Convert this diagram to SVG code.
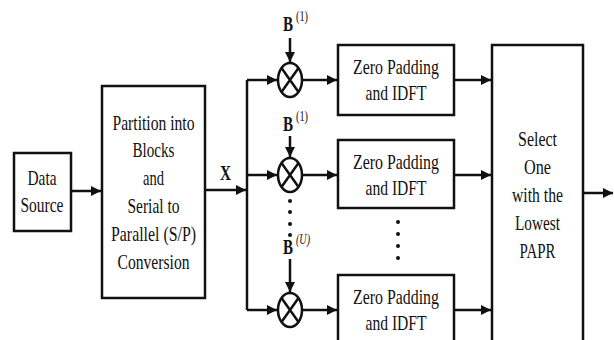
<svg xmlns="http://www.w3.org/2000/svg" width="614" height="340" viewBox="0 0 614 340">
<defs>
<style>
.box{fill:#fff;stroke:#111;stroke-width:2.5}
.ln{fill:none;stroke:#111;stroke-width:2.5}
text{font-family:"Liberation Serif","DejaVu Serif",serif;fill:#111}
.t{font-size:21px;text-anchor:middle}
.b{font-size:21px;font-weight:bold}
.s{font-size:14px}
.dot{fill:#111}
</style>
<marker id="ah" viewBox="0 0 10 10" refX="10" refY="5" markerWidth="10" markerHeight="10" markerUnits="userSpaceOnUse" orient="auto">
<path d="M0,0 L10,5 L0,10 Z" fill="#111"/>
</marker>
<g id="mult">
<ellipse cx="0" cy="0" rx="12" ry="17" class="ln"/>
<path d="M-8.5,-12 L8.5,12 M8.5,-12 L-8.5,12" class="ln" stroke-width="2"/>
</g>
</defs>
<rect width="614" height="340" fill="#fff"/>

<g id="connectors">
<path class="ln" d="M71,191 H101" marker-end="url(#ah)"/>
<path class="ln" d="M205,190 H246" marker-end="url(#ah)"/>
<path class="ln" d="M247,80 V310"/>
<path class="ln" d="M247,80 H277" marker-end="url(#ah)"/>
<path class="ln" d="M247,175 H277" marker-end="url(#ah)"/>
<path class="ln" d="M247,310 H277" marker-end="url(#ah)"/>
<path class="ln" d="M290,38 V62" stroke-width="2" marker-end="url(#ah)"/>
<path class="ln" d="M290,136 V157" stroke-width="2" marker-end="url(#ah)"/>
<path class="ln" d="M290,259 V292" stroke-width="2" marker-end="url(#ah)"/>
<path class="ln" d="M302,80 H337" marker-end="url(#ah)"/>
<path class="ln" d="M302,175 H337" marker-end="url(#ah)"/>
<path class="ln" d="M302,310 H337" marker-end="url(#ah)"/>
<path class="ln" d="M454,80 H491" marker-end="url(#ah)"/>
<path class="ln" d="M454,175 H491" marker-end="url(#ah)"/>
<path class="ln" d="M454,310 H491" marker-end="url(#ah)"/>
<path class="ln" d="M583,193 H613" marker-end="url(#ah)"/>
</g>

<g id="data-source">
<rect class="box" x="14" y="153" width="57" height="78"/>
<text class="t" x="42" y="185" textLength="29" lengthAdjust="spacingAndGlyphs">Data</text>
<text class="t" x="42" y="212" textLength="43" lengthAdjust="spacingAndGlyphs">Source</text>
</g>

<g id="partition">
<rect class="box" x="102" y="86" width="103" height="212"/>
<text class="t" x="153.5" y="130" textLength="82" lengthAdjust="spacingAndGlyphs">Partition into</text>
<text class="t" x="153.5" y="157" textLength="42" lengthAdjust="spacingAndGlyphs">Blocks</text>
<text class="t" x="153.5" y="185" textLength="21" lengthAdjust="spacingAndGlyphs">and</text>
<text class="t" x="153.5" y="213" textLength="52" lengthAdjust="spacingAndGlyphs">Serial to</text>
<text class="t" x="153.5" y="241" textLength="85" lengthAdjust="spacingAndGlyphs">Parallel (S/P)</text>
<text class="t" x="153.5" y="269" textLength="72" lengthAdjust="spacingAndGlyphs">Conversion</text>
</g>

<g id="label-x">
<text class="b" x="220" y="180" textLength="11" lengthAdjust="spacingAndGlyphs">X</text>
</g>

<g id="mult1">
<use href="#mult" x="290" y="80"/>
<text class="b" x="283" y="31" textLength="10" lengthAdjust="spacingAndGlyphs">B</text>
<text class="s" x="296" y="21" textLength="12" lengthAdjust="spacingAndGlyphs">(1)</text>
</g>

<g id="mult2">
<use href="#mult" x="290" y="175"/>
<text class="b" x="283" y="131" textLength="10" lengthAdjust="spacingAndGlyphs">B</text>
<text class="s" x="296" y="121" textLength="12" lengthAdjust="spacingAndGlyphs">(1)</text>
</g>

<g id="dots1">
<circle class="dot" cx="290" cy="201" r="2"/>
<circle class="dot" cx="290" cy="212" r="2"/>
<circle class="dot" cx="290" cy="224" r="2"/>
<circle class="dot" cx="290" cy="235" r="2"/>
</g>

<g id="mult3">
<use href="#mult" x="290" y="310"/>
<text class="b" x="283" y="254" textLength="10" lengthAdjust="spacingAndGlyphs">B</text>
<text class="s" x="296" y="244" font-style="italic" textLength="14" lengthAdjust="spacingAndGlyphs">(U)</text>
</g>

<g id="zp1">
<rect class="box" x="338" y="45" width="116" height="70"/>
<text class="t" x="396" y="74" textLength="86" lengthAdjust="spacingAndGlyphs">Zero Padding</text>
<text class="t" x="396" y="100" textLength="61" lengthAdjust="spacingAndGlyphs">and IDFT</text>
</g>

<g id="zp2">
<rect class="box" x="338" y="140" width="116" height="68"/>
<text class="t" x="396" y="169" textLength="86" lengthAdjust="spacingAndGlyphs">Zero Padding</text>
<text class="t" x="396" y="195" textLength="61" lengthAdjust="spacingAndGlyphs">and IDFT</text>
</g>

<g id="dots2">
<circle class="dot" cx="398" cy="222" r="2"/>
<circle class="dot" cx="398" cy="234" r="2"/>
<circle class="dot" cx="398" cy="246" r="2"/>
<circle class="dot" cx="398" cy="258" r="2"/>
</g>

<g id="zp3">
<rect class="box" x="338" y="275" width="116" height="80"/>
<text class="t" x="396" y="304" textLength="86" lengthAdjust="spacingAndGlyphs">Zero Padding</text>
<text class="t" x="396" y="330" textLength="61" lengthAdjust="spacingAndGlyphs">and IDFT</text>
</g>

<g id="select">
<rect class="box" x="492" y="45" width="91" height="310"/>
<text class="t" x="537.5" y="146" textLength="39" lengthAdjust="spacingAndGlyphs">Select</text>
<text class="t" x="537.5" y="174" textLength="27" lengthAdjust="spacingAndGlyphs">One</text>
<text class="t" x="537.5" y="202" textLength="51" lengthAdjust="spacingAndGlyphs">with the</text>
<text class="t" x="537.5" y="230" textLength="45" lengthAdjust="spacingAndGlyphs">Lowest</text>
<text class="t" x="537.5" y="258" textLength="36" lengthAdjust="spacingAndGlyphs">PAPR</text>
</g>
</svg>
